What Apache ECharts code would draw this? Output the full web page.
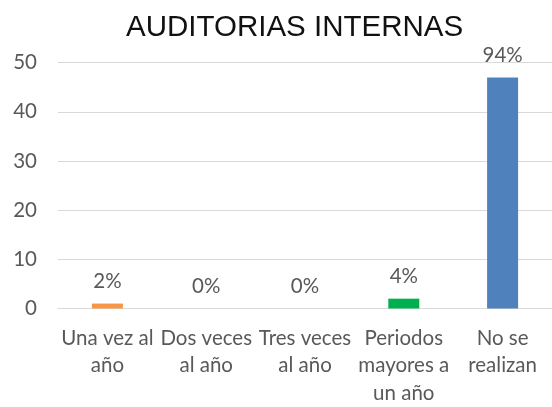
<!DOCTYPE html>
<html>
<head>
<meta charset="utf-8">
<script src="https://cdn.jsdelivr.net/npm/echarts@6/dist/echarts.min.js"></script>
<style>html,body{margin:0;padding:0;background:#fff}#c{width:552px;height:407px}</style>
</head>
<body>
<div id="c"></div>
<script>
const titleText = 'AUDITORIAS INTERNAS';
const categories = ['Una vez al\naño', 'Dos veces\nal año', 'Tres veces\nal año', 'Periodos\nmayores a\nun año', 'No se\nrealizan'];
const values = [1, 0, 0, 2, 47];
const pctLabels = ['2%', '0%', '0%', '4%', '94%'];
const barColors = ['#F79646', '#C0504D', '#9BBB59', '#00B050', '#4F81BD'];
const yTicks = [0, 10, 20, 30, 40, 50];

const chart = echarts.init(document.getElementById('c'), null, {renderer: 'canvas'});
chart.setOption({
  animation: false,
  backgroundColor: '#ffffff',
  title: {
    text: titleText,
    left: 121,
    top: 8,
    textStyle: {fontFamily: 'Liberation Sans, Arial, sans-serif', fontSize: 29.5, fontWeight: 'normal', color: '#111111'}
  },
  grid: {left: 58, right: 0, top: 62.7, bottom: 93, containLabel: false},
  xAxis: {
    type: 'category',
    data: categories,
    axisLine: {show: true, lineStyle: {color: '#d9d9d9', width: 1}},
    axisTick: {show: false},
    axisLabel: {
      interval: 0, margin: 16,
      fontFamily: 'Lato, sans-serif', fontSize: 20.5, color: '#595959', lineHeight: 27.5
    }
  },
  yAxis: {
    type: 'value',
    min: yTicks[0], max: yTicks[yTicks.length - 1], interval: 10,
    axisLine: {show: false},
    axisTick: {show: false},
    splitLine: {lineStyle: {color: '#d9d9d9', width: 1}},
    axisLabel: {margin: 21, fontFamily: 'Lato, sans-serif', fontSize: 20.5, color: '#595959'}
  },
  series: [{
    type: 'bar',
    barWidth: 31,
    data: values.map((v, i) => ({value: v, itemStyle: {color: barColors[i]}})),
    label: {
      show: true, position: 'top', distance: 12,
      fontFamily: 'Lato, sans-serif', fontSize: 20.5, color: '#595959',
      formatter: p => pctLabels[p.dataIndex]
    }
  }]
});
</script>
</body>
</html>
